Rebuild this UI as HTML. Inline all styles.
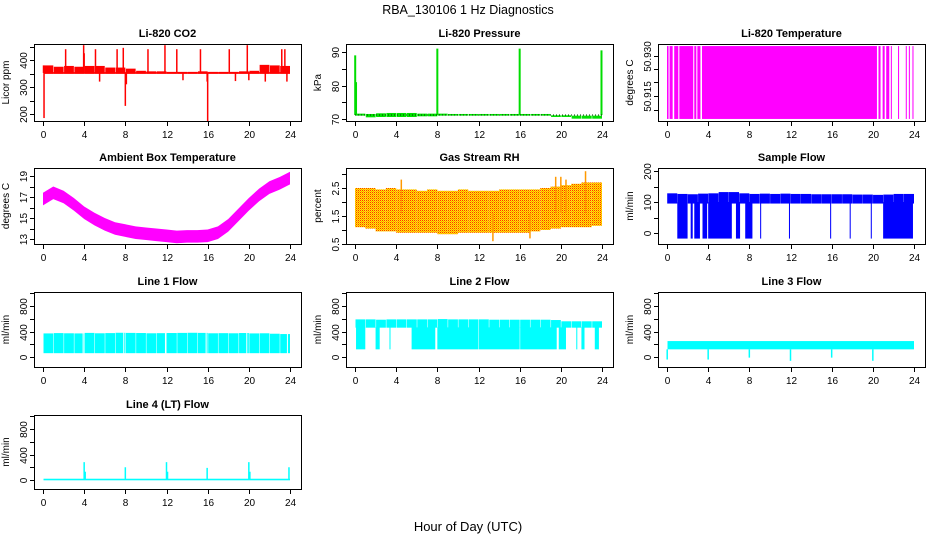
<!DOCTYPE html>
<html><head><meta charset="utf-8"><style>
html,body{margin:0;padding:0;background:#fff;}
svg{display:block;font-family:"Liberation Sans",sans-serif;}
</style></head><body>
<svg id="c" width="936" height="540" viewBox="0 0 936 540" xmlns="http://www.w3.org/2000/svg">
<defs>
<pattern id="rhpat" width="2" height="2" patternUnits="userSpaceOnUse">
<rect width="2" height="2" fill="#ffee00"/><rect width="1" height="1" fill="#ff3000"/><rect x="1" y="1" width="1" height="1" fill="#ff9900"/>
</pattern>
</defs>
<text x="468" y="14" font-size="12.5" text-anchor="middle">RBA_130106  1 Hz Diagnostics</text>
<text x="468" y="531" font-size="13" text-anchor="middle">Hour of Day (UTC)</text>
</svg>
<script>
// ---- data ----
const xTicks = [0,4,8,12,16,20,24];
// CO2
const co2BandHi = [380,375,378,375,378,378,372,372,368,360,358,358,356,356,356,358,356,356,356,358,360,382,380,378];
const co2Base = 352;
const co2SpikeT = [0.05,0.1,2.2,3.95,4.0,5.1,5.5,7.2,7.8,8.0,8.1,10.2,11.85,13.0,13.6,15.3,15.95,16.0,18.1,18.7,19.85,20.0,21.6,23.2,23.5,23.7];
const co2SpikeV = [380,185,440,455,425,440,320,440,445,230,310,440,455,440,325,440,320,170,440,322,455,325,320,440,440,320];
// Pressure
const presLo = [71,70.5,70.6,70.6,70.6,70.6,70.8,70.8,71,71,71,71,71,71,71,71,71,71,71,70.6,70.6,70.1,70.1,70.1];
const presHi = [71.6,71.5,71.7,71.8,71.8,71.8,71.6,71.6,71.6,71.5,71.5,71.5,71.5,71.5,71.5,71.5,71.5,71.5,71.5,71.1,71.1,71,71,71];
const presSpikeT = [0.02,0.1,8.0,16.0,23.95];
const presSpikeV = [89,81,91,91,90.5];
// Li-820 temperature filled intervals
const liStart = [0,0.25,0.7,1.2,2.65,2.95,3.4,20.55,20.95,21.3,21.75,22.45,23.2,23.5,23.85];
const liEnd = [0.15,0.55,1.1,2.55,2.85,3.25,20.4,20.75,21.15,21.6,21.85,22.55,23.3,23.6,23.95];
const liLo = 50.9065, liHi = 50.9335;
// Ambient box temperature (hourly)
const ambLo = [16.2,16.8,16.4,15.7,14.9,14.3,13.8,13.4,13.2,13.0,12.9,12.8,12.7,12.6,12.65,12.65,12.7,13.0,13.7,14.7,15.7,16.6,17.3,17.7,18.2];
const ambHi = [17.4,18.0,17.6,16.9,16.1,15.5,15.0,14.6,14.4,14.2,14.1,14.0,13.9,13.8,13.85,13.85,13.9,14.2,14.9,15.9,16.9,17.8,18.5,18.9,19.4];
// Gas stream RH
const rhLo = [1.1,1.05,0.95,0.95,0.9,0.9,0.9,0.9,0.85,0.85,0.9,0.9,0.9,0.9,0.9,0.9,0.9,0.95,1.0,1.05,1.1,1.1,1.1,1.15];
const rhHi = [2.5,2.5,2.45,2.5,2.45,2.45,2.4,2.45,2.4,2.4,2.45,2.4,2.4,2.4,2.45,2.45,2.45,2.45,2.5,2.55,2.6,2.65,2.7,2.7];
const rhSpikeT = [4.5,13.4,17.0,19.5,20.0,20.5,22.4];
const rhSpikeV = [2.8,0.6,0.7,2.9,2.9,2.8,3.1];
// Sample flow
const sfLo = 95, sfHi = [128,126,125,127,128,132,132,128,126,127,126,127,126,126,125,125,125,125,124,124,123,124,126,126];
const sfDipStart = [1.0,2.3,2.65,3.45,4.0,6.7,7.6,9.05,11.85,15.85,17.75,19.8,21.0];
const sfDipEnd = [2.0,2.5,3.2,3.9,6.3,7.1,8.3,9.15,11.95,15.95,17.85,19.9,23.9];
const sfDipV = -18;
// Line 1
const l1Lo = 60, l1Hi = [370,375,372,370,378,372,375,380,378,376,372,374,376,378,380,378,372,374,372,376,370,372,365,360];
const l1Gaps = [3.9,7.85,11.9,15.85,19.8,23.75];
// Line 2
const l2Lo = 460, l2Hi = [590,590,585,590,590,590,590,590,595,590,590,590,590,585,585,585,585,585,585,580,560,560,560,560];
const l2DipStart = [0.1,2.0,3.35,5.5,8.0,12.05,16.05,19.8,21.5,22.0,23.3];
const l2DipEnd = [1.0,2.4,3.45,7.8,12.0,16.0,19.6,20.5,21.6,22.3,23.7];
const l2DipV = 120;
// Line 3
const l3Lo = 120, l3Hi = 250;
const l3DipT = [0.02,4.0,8.0,12.0,16.0,20.0];
const l3DipV = [-40,-40,-10,-60,-10,-60];
// Line 4
const l4Lo = -5, l4Hi = 20;
const l4SpikeT = [4.0,4.1,8.0,12.0,12.1,15.95,20.0,20.1,23.9];
const l4SpikeV = [280,130,200,280,130,190,280,130,200];

// ---- drawing ----
const NS = "http://www.w3.org/2000/svg";
const svg = document.getElementById('c');
const rowTop = [44,168,292,415], rowBot = [121,244,367,489];
function el(tag, attrs, parent){
  const e = document.createElementNS(NS, tag);
  for (const k in attrs) e.setAttribute(k, attrs[k]);
  (parent||svg).appendChild(e);
  return e;
}
let pid = 0;
function panel(name, title, ylab, c, r, v0, p0, v1, p1, ticks, labels){
  const L = 34 + 312*c, R = L + 267, T = rowTop[r], B = rowBot[r];
  const x0 = 43 + 312*c, x1 = 290 + 312*c;
  const P = {L,R,T,B};
  P.xs = h => x0 + h*(x1-x0)/24;
  P.ys = v => p0 + (v - v0)*(p1 - p0)/(v1 - v0);
  const g = el('g', {});
  
  
  pid++;
  const cp = el('clipPath', {id:'cp'+pid}, g);
  el('rect', {x:L, y:T, width:R-L, height:B-T}, cp);
  P.d = el('g', {'clip-path':'url(#cp'+pid+')'}, g);
  
  
  P.g = g;
  const t = el('text', {x:(L+R)/2, y:T-7, 'font-size':11, 'font-weight':'bold', 'text-anchor':'middle'}, g);
  t.textContent = title;
  
  
  const bx = el('rect', {x:L+0.5, y:T+0.5, width:R-L, height:B-T, fill:'none', stroke:'#000', 'stroke-width':1}, g);
  
  
  const xa = el('g', {}, g);
  
  
  xTicks.forEach(h => {
    const x = Math.round(P.xs(h)) + 0.5;
    el('line', {x1:x, x2:x, y1:B+1, y2:B+5, stroke:'#000'}, xa);
    const tl = el('text', {x:x, y:B+17, 'font-size':10, 'text-anchor':'middle'}, xa);
    tl.textContent = h;
  });
  const ya = el('g', {}, g);
  
  
  ticks.forEach((v,i) => {
    const y = Math.round(P.ys(v)) + 0.5;
    el('line', {x1:L-4, x2:L, y1:y, y2:y, stroke:'#000'}, ya);
    if (labels[i] !== '') {
      const tl = el('text', {x:L-7, y:y, 'font-size':10, 'text-anchor':'middle', transform:'rotate(-90 '+(L-7)+' '+y+')'}, ya);
      tl.textContent = labels[i];
    }
  });
  const yl = el('text', {x:L-25, y:(T+B)/2, 'font-size':10, 'text-anchor':'middle', transform:'rotate(-90 '+(L-25)+' '+((T+B)/2)+')'}, g);
  yl.textContent = ylab;
  
  
  return P;
}
function box(P, h0, h1, v0, v1, fill, nm){
  const x = P.xs(h0), xb = P.xs(h1), ya = P.ys(v0), yb = P.ys(v1);
  const r = el('rect', {x:Math.min(x,xb), y:Math.min(ya,yb), width:Math.max(1,Math.abs(xb-x)), height:Math.max(1,Math.abs(yb-ya)), fill:fill}, P.d);
  
  
  return r;
}
function vline(P, h, v0, v1, color, w, nm){
  const x = P.xs(h);
  const l = el('line', {x1:x, x2:x, y1:P.ys(v0), y2:P.ys(v1), stroke:color, 'stroke-width':w}, P.d);
  
  
}
function band(P, lo, hi, fill, nm){
  let pts = [];
  hi.forEach((v,i) => pts.push(P.xs(i*24/(hi.length-1)) + ',' + P.ys(v)));
  for (let i = lo.length-1; i >= 0; i--) pts.push(P.xs(i*24/(lo.length-1)) + ',' + P.ys(lo[i]));
  const p = el('polygon', {points:pts.join(' '), fill:fill}, P.d);
  
  
}

const pC = panel('co2','Li-820 CO2','Licor ppm',0,0,200,114,400,60,[200,250,300,350,400,450],['200','','300','','400','']);
co2BandHi.forEach((v,i) => box(pC, i+0.05, i+1, co2Base-3, v, '#ff0000', 'co2-band'));
box(pC, 0.05, 24, co2Base-3, co2Base+3, '#ff0000', 'co2-baseline');
co2SpikeT.forEach((t,i) => vline(pC, t, co2Base, co2SpikeV[i], '#ff0000', 1.5, 'co2-spike'));

const pP = panel('pressure','Li-820 Pressure','kPa',1,0,70,119,90,52,[70,75,80,85,90],['70','','80','','90']);
presHi.forEach((v,i) => box(pP, i+0.05, i+1, presLo[i], v, '#00e000', 'pressure-band'));
presSpikeT.forEach((t,i) => vline(pP, t, 71.2, presSpikeV[i], '#00dd00', 2, 'pressure-spike'));
(function(){ const l = el('line', {x1:pP.xs(0), x2:pP.xs(24), y1:pP.ys(71.2), y2:pP.ys(71.2), stroke:'#003300', 'stroke-width':1, 'stroke-dasharray':'1,2'}, pP.d);

 })();

const pT = panel('li820-temp','Li-820 Temperature','degrees C',2,0,50.915,96,50.930,55.5,[50.910,50.915,50.920,50.925,50.930],['','50.915','','','50.930']);
liStart.forEach((s,i) => box(pT, s, liEnd[i], liLo, liHi, '#ff00ff', 'li820-temp-segment'));

const pA = panel('ambient-temp','Ambient Box Temperature','degrees C',0,1,13,239,19,176,[13,14,15,16,17,18,19],['13','','15','','17','','19']);
band(pA, ambLo, ambHi, '#ff00ff', 'ambient-temp-band');

const pR = panel('gas-rh','Gas Stream RH','percent',1,1,0.5,244,2.5,188,[0.5,1.0,1.5,2.0,2.5,3.0],['0.5','','1.5','','2.5','']);
rhHi.forEach((v,i) => box(pR, i, i+1, rhLo[i], v, 'url(#rhpat)', 'rh-band'));
rhSpikeT.forEach((t,i) => vline(pR, t, 1.6, rhSpikeV[i], '#ff9900', 1.5, 'rh-spike'));

const pS = panel('sample-flow','Sample Flow','ml/min',2,1,0,233,200,171,[0,50,100,150,200],['0','','100','','200']);
sfHi.forEach((v,i) => box(pS, i+0.02, i+1, sfLo, v, '#0000ff', 'sample-flow-band'));
sfDipStart.forEach((s,i) => box(pS, s, sfDipEnd[i], sfDipV, sfLo+5, '#0000ff', 'sample-flow-dip'));

const fT = [0,200,400,600,800,1000], fL = ['0','','400','','800',''];
const p1 = panel('line1-flow','Line 1 Flow','ml/min',0,2,0,357,800,306,fT,fL);
l1Hi.forEach((v,i) => box(p1, i+0.05, i+1, l1Lo, v, '#00ffff', 'line1-flow-band'));
l1Gaps.forEach(t => vline(p1, t, l1Lo-5, 420, '#ffffff', 1, 'line1-flow-gap'));

const p2 = panel('line2-flow','Line 2 Flow','ml/min',1,2,0,357,800,306,fT,fL);
l2Hi.forEach((v,i) => box(p2, i+0.05, i+1, l2Lo, v, '#00ffff', 'line2-flow-band'));
l2DipStart.forEach((s,i) => box(p2, s, l2DipEnd[i], l2DipV, l2Lo+5, '#00ffff', 'line2-flow-dip'));

const p3 = panel('line3-flow','Line 3 Flow','ml/min',2,2,0,357,800,306,fT,fL);
box(p3, 0.05, 24, l3Lo, l3Hi, '#00ffff', 'line3-flow-band');
l3DipT.forEach((t,i) => vline(p3, t, l3Lo, l3DipV[i], '#00ffff', 1.5, 'line3-flow-dip'));

const p4 = panel('line4-flow','Line 4 (LT) Flow','ml/min',0,3,0,480,800,429,fT,fL);
box(p4, 0.05, 24, l4Lo, l4Hi, '#00ffff', 'line4-flow-band');
l4SpikeT.forEach((t,i) => vline(p4, t, 0, l4SpikeV[i], '#00ffff', 1.5, 'line4-flow-spike'));
</script>
</body></html>
